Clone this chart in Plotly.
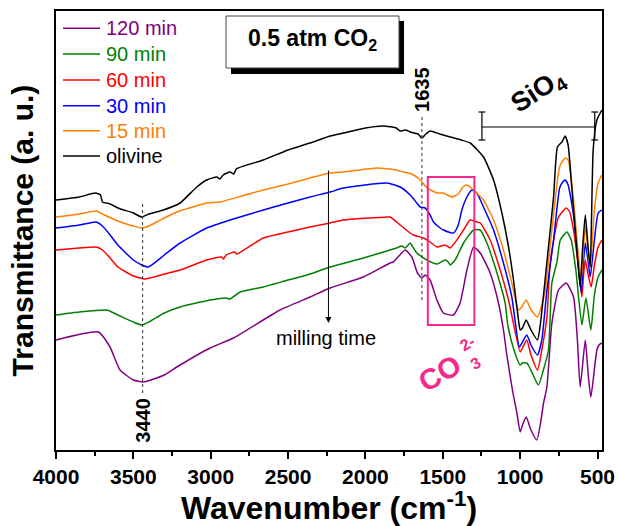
import plotly.graph_objects as go

# ---------------- data (wavenumber in cm-1, transmittance in a.u.) ----------------
wn_olivine = [4000, 3850, 3745, 3712, 3700, 3650, 3600, 3500, 3446, 3400, 3306, 3198, 3090, 3026, 2960,
              2940, 2920, 2875, 2850, 2835, 2660, 2500, 2358, 2228, 2142, 2000, 1884, 1800, 1776, 1740,
              1711, 1660, 1635, 1610, 1582, 1520, 1452, 1380, 1323, 1237, 1172, 1118, 1075, 1043, 1011,
              1000, 985, 961, 930, 888, 870, 849, 817, 784, 759, 730, 709, 690, 660, 633,
              612, 595, 579, 562, 547, 528, 504, 472]
T_olivine = [250, 253, 257, 255, 248, 246, 242, 237, 233, 236, 240, 247, 263, 270, 273,
             271, 275, 278, 276, 281, 290, 300, 307, 314, 317, 322, 324, 322, 319, 320,
             318, 316, 312, 316, 319, 316, 313, 310, 307, 293, 270, 237, 203, 170, 130,
             120, 122, 130, 120, 110, 125, 155, 203, 253, 303, 308, 314, 305, 250, 200,
             163, 205, 235, 205, 183, 300, 330, 340]

wn_15 = [4000, 3850, 3740, 3700, 3600, 3500, 3446, 3400, 3300, 3200, 3026, 2940, 2800, 2660, 2500,
         2358, 2228, 2142, 1926, 1800, 1754, 1700, 1646, 1600, 1538, 1496, 1441, 1400, 1370, 1344,
         1323, 1280, 1237, 1172, 1108, 1054, 1011, 990, 961, 930, 888, 860, 838, 795, 759,
         741, 709, 690, 655, 630, 605, 592, 579, 562, 547, 520, 496, 472]
T_15 = [233, 236, 239, 236, 229, 224, 222, 224, 232, 239, 247, 248, 254, 260, 266,
        272, 277, 278, 282, 280, 278, 276, 270, 262, 257, 257, 253, 256, 263, 265,
        263, 257, 250, 230, 200, 167, 140, 143, 150, 140, 133, 145, 160, 220, 270,
        285, 292, 290, 250, 205, 170, 200, 223, 200, 183, 240, 267, 275]

wn_30 = [4000, 3850, 3740, 3700, 3650, 3600, 3500, 3446, 3403, 3300, 3198, 3026, 2875, 2660, 2500,
         2358, 2228, 2142, 1862, 1776, 1711, 1668, 1646, 1614, 1582, 1560, 1517, 1496, 1431, 1400,
         1377, 1344, 1312, 1280, 1237, 1172, 1108, 1054, 1005, 985, 957, 930, 888, 860, 827,
         784, 745, 725, 709, 690, 655, 630, 605, 592, 579, 562, 547, 520, 496, 472]
T_30 = [222, 225, 228, 224, 215, 205, 190, 185, 183, 195, 207, 222, 230, 240, 247,
        253, 258, 262, 267, 263, 255, 247, 243, 242, 235, 228, 222, 220, 217, 225,
        240, 253, 260, 257, 243, 220, 187, 153, 103, 108, 115, 105, 95, 110, 160,
        210, 262, 268, 270, 265, 235, 195, 157, 185, 207, 190, 173, 210, 237, 240]

wn_60 = [4000, 3850, 3740, 3700, 3650, 3600, 3500, 3424, 3300, 3198, 3026, 2930, 2918, 2900, 2845,
         2832, 2660, 2500, 2358, 2228, 2142, 1862, 1840, 1776, 1711, 1690, 1625, 1582, 1538, 1485,
         1452, 1400, 1366, 1323, 1280, 1258, 1194, 1129, 1075, 1000, 985, 957, 930, 888, 860,
         827, 806, 752, 702, 680, 650, 625, 601, 590, 579, 560, 541, 520, 496, 472]
T_60 = [200, 202, 203, 200, 192, 183, 174, 171, 176, 180, 190, 193, 191, 195, 198,
        196, 212, 218, 223, 227, 230, 233, 233, 225, 217, 215, 212, 208, 203, 205,
        202, 212, 220, 230, 228, 227, 210, 180, 150, 98, 102, 110, 95, 80, 100,
        133, 187, 233, 242, 238, 215, 185, 153, 175, 190, 175, 163, 185, 203, 210]

wn_90 = [4000, 3850, 3672, 3600, 3500, 3446, 3400, 3300, 3198, 3004, 2901, 2875, 2810, 2660, 2500,
         2358, 2228, 2013, 1800, 1765, 1743, 1711, 1690, 1668, 1603, 1538, 1485, 1465, 1452, 1420,
         1366, 1301, 1258, 1215, 1150, 1097, 1080, 1040, 1000, 985, 957, 940, 882, 850, 817,
         795, 762, 741, 698, 670, 640, 601, 575, 543, 520, 496, 472]
T_90 = [135, 138, 140, 135, 128, 125, 128, 137, 143, 150, 152, 151, 158, 163, 170,
        176, 183, 192, 202, 204, 202, 207, 202, 197, 190, 186, 190, 188, 185, 190,
        207, 220, 220, 207, 177, 147, 125, 100, 85, 87, 87, 83, 65, 80, 100,
        167, 188, 210, 218, 210, 180, 125, 152, 120, 155, 173, 180]

wn_120 = [4000, 3726, 3651, 3586, 3500, 3435, 3300, 3219, 3004, 2853, 2552, 2358, 2228, 2013, 1840,
          1819, 1743, 1700, 1664, 1635, 1614, 1582, 1538, 1496, 1431, 1388, 1344, 1301, 1258, 1194,
          1140, 1108, 1086, 1050, 1021, 1000, 985, 961, 930, 892, 860, 849, 827, 795, 752,
          702, 655, 630, 612, 579, 560, 543, 504, 490, 472]
T_120 = [110, 118, 103, 80, 70, 68, 75, 83, 102, 112, 140, 153, 162, 173, 187,
         188, 200, 193, 177, 172, 175, 170, 150, 137, 135, 147, 180, 203, 197, 177,
         147, 120, 95, 60, 37, 18, 25, 33, 20, 10, 35, 47, 63, 127, 160,
         167, 153, 110, 63, 110, 75, 53, 100, 105, 107]

series_names = ["120 min", "90 min", "60 min", "30 min", "15 min", "olivine"]
series_colors = ["#800080", "#008000", "#FF0000", "#0000FF", "#FF8000", "#000000"]
series_x = [wn_120, wn_90, wn_60, wn_30, wn_15, wn_olivine]
series_y = [T_120, T_90, T_60, T_30, T_15, T_olivine]

x_ticks = [4000, 3500, 3000, 2500, 2000, 1500, 1000, 500]

FONT = "Liberation Sans, Arial, sans-serif"
PINK = "#F5288C"

fig = go.Figure()
for name, xs, ys, col in zip(series_names, series_x, series_y, series_colors):
    fig.add_trace(go.Scatter(
        x=xs, y=ys, mode="lines", name=name, showlegend=False,
        line=dict(color=col, width=1.5, shape="spline", smoothing=0.5),
        hoverinfo="skip",
    ))

shapes = []
annotations = []

# legend (drawn in paper coordinates, one row per series)
legend_rows = [0.9606, 0.9021, 0.8428, 0.7843, 0.7273, 0.6697]
for name, col, yr in zip(series_names, series_colors, legend_rows):
    shapes.append(dict(type="line", xref="paper", yref="paper", x0=0.0128, x1=0.0806, y0=yr, y1=yr,
                       line=dict(color=col, width=1.5)))
    annotations.append(dict(xref="paper", yref="paper", x=0.0879, y=yr, xanchor="left", yanchor="middle",
                            text=name, showarrow=False, font=dict(family=FONT, size=20, color=col)))

# dashed guide lines at marked peaks
shapes.append(dict(type="line", xref="x", yref="y", x0=3440, x1=3440, y0=57, y1=247,
                   line=dict(color="#333333", width=1, dash="dot")))
shapes.append(dict(type="line", xref="x", yref="y", x0=1635, x1=1635, y0=150, y1=335,
                   line=dict(color="#333333", width=1, dash="dot")))
# carbonate box
shapes.append(dict(type="rect", xref="x", yref="y", x0=1597, x1=1296, y0=125, y1=273,
                   line=dict(color=PINK, width=2)))
# SiO4 bracket
shapes.append(dict(type="line", xref="x", yref="y", x0=1247, x1=518, y0=323, y1=323,
                   line=dict(color="black", width=1.2)))
for xc in (1247, 518):
    shapes.append(dict(type="line", xref="x", yref="y", x0=xc, x1=xc, y0=310, y1=338,
                       line=dict(color="black", width=1.2)))
    for yc in (310, 338):
        shapes.append(dict(type="line", xref="x", yref="y", x0=xc + 22, x1=xc - 22, y0=yc, y1=yc,
                           line=dict(color="black", width=1.2)))
# "0.5 atm CO2" box with drop shadow (paper coords)
shapes.append(dict(type="rect", xref="paper", yref="paper", x0=0.3205, x1=0.6374, y0=0.8565, y1=0.9772,
                   fillcolor="black", line=dict(width=0), layer="above"))
shapes.append(dict(type="rect", xref="paper", yref="paper", x0=0.3114, x1=0.6282, y0=0.8702, y1=0.9886,
                   fillcolor="white", line=dict(color="#444444", width=1), layer="above"))

annotations += [
    dict(xref="paper", yref="paper", x=0.4698, y=0.936, yanchor="middle",
         text="<b>0.5 atm CO<sub>2</sub></b>",
         showarrow=False, font=dict(family=FONT, size=23, color="black")),
    dict(xref="x", yref="y", x=3440, y=30, text="<b>3440</b>", textangle=-90, showarrow=False,
         font=dict(family=FONT, size=20, color="black")),
    dict(xref="x", yref="y", x=1635, y=361, text="<b>1635</b>", textangle=-90, showarrow=False,
         font=dict(family=FONT, size=20, color="black")),
    dict(xref="x", yref="y", x=2239, y=127, ax=2239, ay=282, axref="x", ayref="y", text=" ",
         showarrow=True, arrowhead=2, arrowsize=1.2, arrowwidth=1, arrowcolor="black",
         font=dict(size=2)),
    dict(xref="x", yref="y", x=2254, y=112, text="milling time", showarrow=False,
         font=dict(family=FONT, size=20, color="black")),
    dict(xref="x", yref="y", x=1517, y=77, text="<b>CO</b>", textangle=-30, showarrow=False,
         font=dict(family=FONT, size=29, color=PINK)),
    dict(xref="x", yref="y", x=1344, y=107, text="<b>2-</b>", textangle=-30, showarrow=False,
         font=dict(family=FONT, size=16, color=PINK)),
    dict(xref="x", yref="y", x=1291, y=87, text="<b>3</b>", textangle=-30, showarrow=False,
         font=dict(family=FONT, size=16, color=PINK)),
    dict(xref="x", yref="y", x=880, y=358, text="<b>SiO<sub>4</sub></b>", textangle=-33, showarrow=False,
         font=dict(family=FONT, size=27, color="black")),
]

fig.update_layout(
    width=619, height=526,
    margin=dict(l=56, r=17, t=11, b=76),
    paper_bgcolor="white", plot_bgcolor="white",
    font=dict(family=FONT, color="black"),
    showlegend=False,
    shapes=shapes,
    annotations=annotations,
    xaxis=dict(
        range=[4000, 471], tickmode="array", tickvals=x_ticks,
        ticks="outside", ticklen=7, tickwidth=1.5, tickcolor="black",
        showline=True, linewidth=1.5, linecolor="black", mirror=True,
        showgrid=False, zeroline=False, automargin=False,
        tickfont=dict(family=FONT, size=21, color="black", weight="bold"),
        minor=dict(tickmode="linear", tick0=250, dtick=500, ticks="outside", ticklen=4,
                   tickwidth=1.5, tickcolor="black", showgrid=False),
        title=dict(text="<b>Wavenumber (cm<sup>-1</sup>)</b>", standoff=4,
                   font=dict(family=FONT, size=32, color="black")),
    ),
    yaxis=dict(
        range=[0, 439], showticklabels=False, ticks="",
        showline=True, linewidth=1.5, linecolor="black", mirror=True,
        showgrid=False, zeroline=False, automargin=False,
        title=dict(text="<b>Transmittance (a. u.)</b>", standoff=12,
                   font=dict(family=FONT, size=30, color="black")),
    ),
)

fig.write_html("out.html", config={"displayModeBar": False},
               post_script="document.body.style.margin='0px';")
